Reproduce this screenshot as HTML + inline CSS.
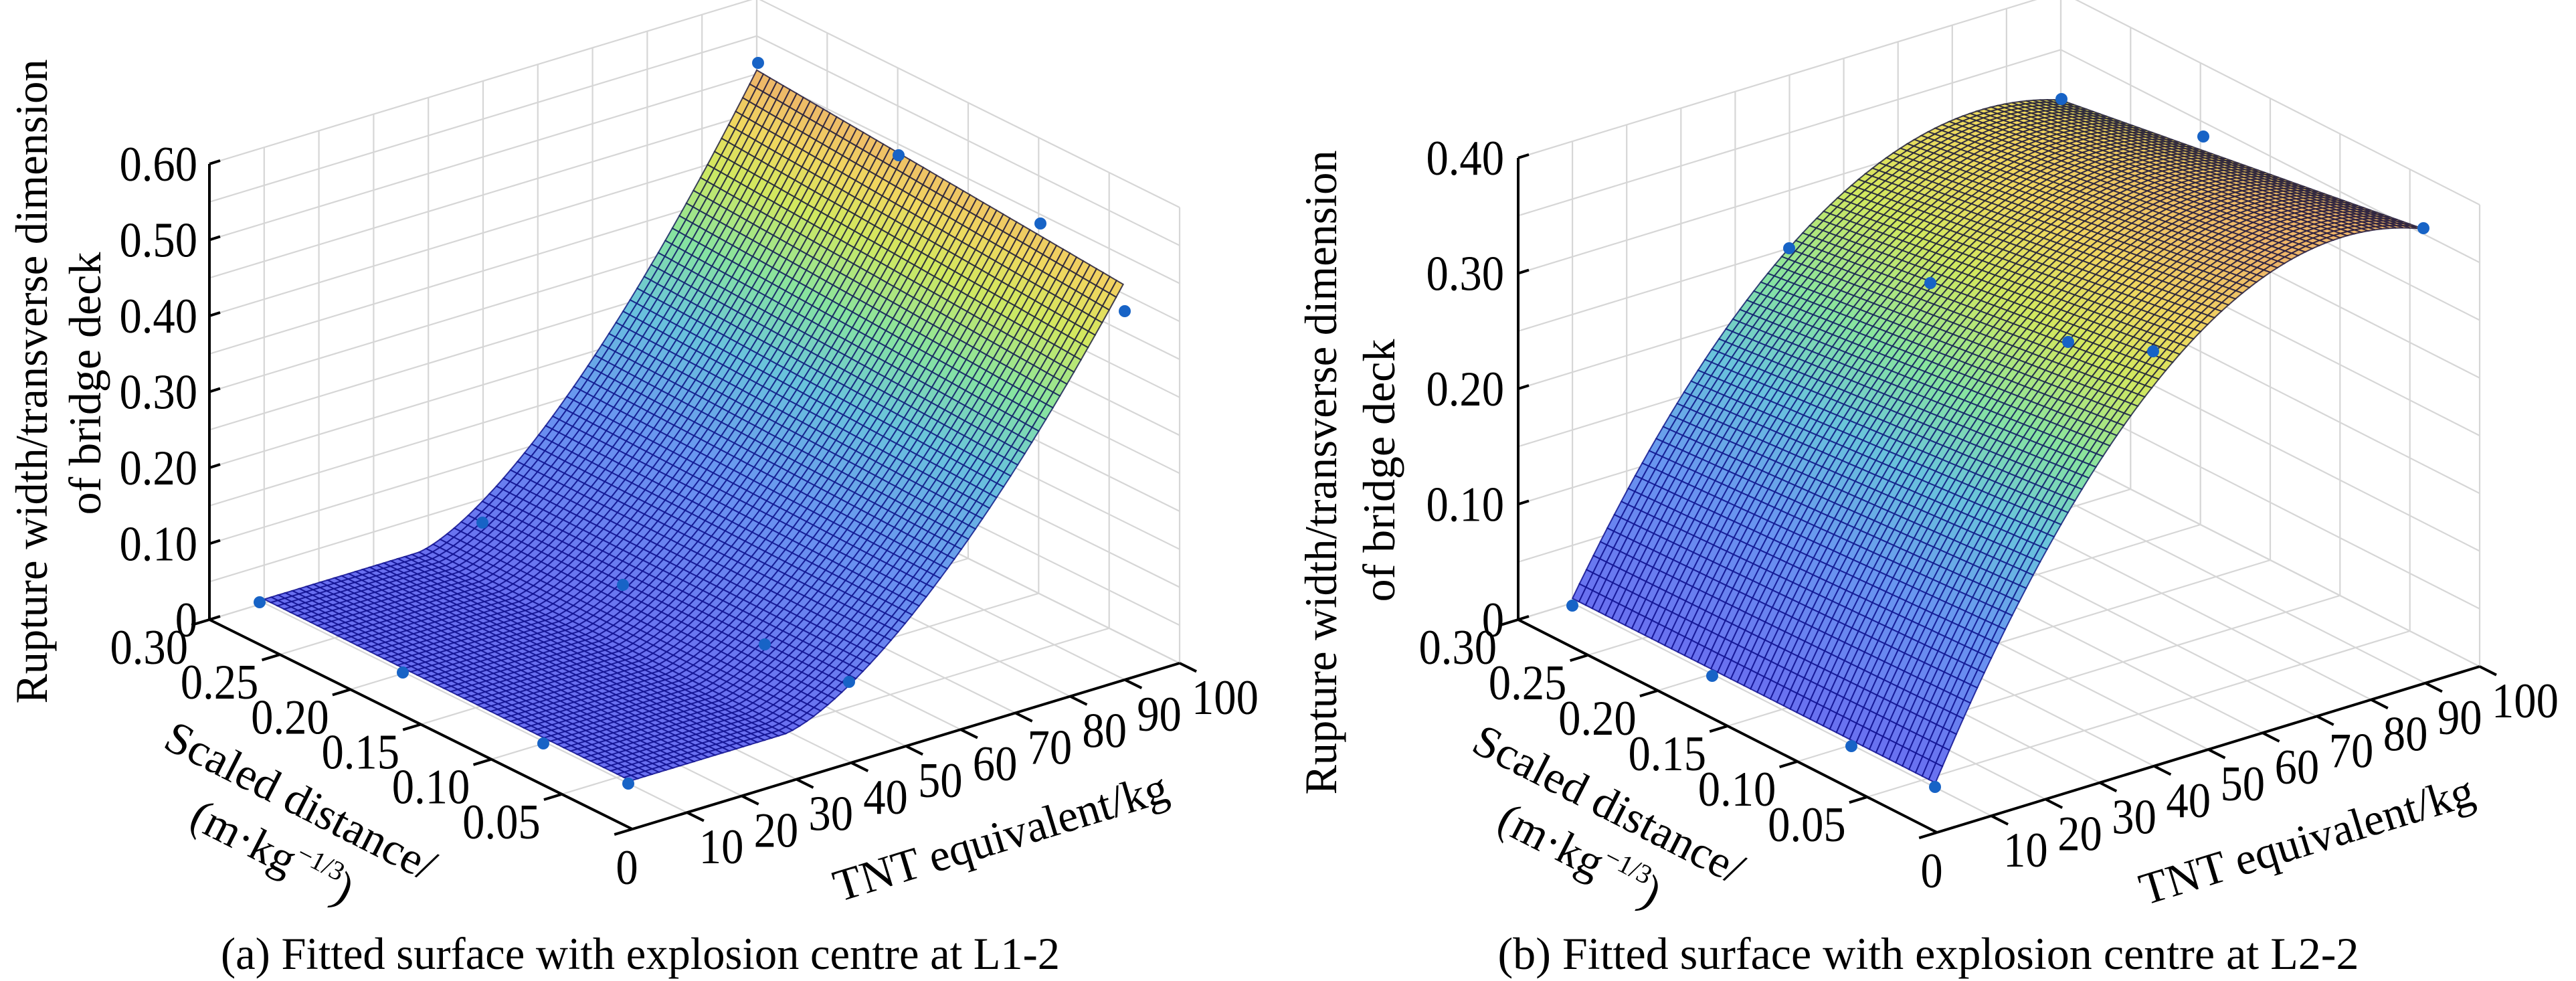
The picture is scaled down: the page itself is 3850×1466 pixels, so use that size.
<!DOCTYPE html>
<html><head><meta charset="utf-8">
<style>
html,body{margin:0;padding:0;background:#fff;}
svg{display:block;}
text{font-family:"Liberation Serif","Times New Roman",serif;fill:#000;}
</style></head>
<body>
<svg id="s" width="3850" height="1466" viewBox="0 0 3850 1466" xmlns="http://www.w3.org/2000/svg"></svg>
<script>
(function(){
var out=[];
var stops=[[0,[105,110,240]],[0.3,[105,150,240]],[0.5,[105,195,220]],[0.65,[135,228,160]],[0.8,[210,232,95]],[0.9,[240,215,95]],[1,[238,182,105]]];
function cmap(t){t=Math.max(0,Math.min(1,t));for(var i=1;i<stops.length;i++){if(t<=stops[i][0]){var a=stops[i-1],b=stops[i];var f=(t-a[0])/(b[0]-a[0]);return [0,1,2].map(function(k){return Math.round(a[1][k]+f*(b[1][k]-a[1][k]));});}}return stops[stops.length-1][1];}
function txt(x,y,s,anchor,fs){out.push('<text transform="translate('+x.toFixed(1)+','+y.toFixed(1)+') scale(0.9,1)" font-size="'+(fs||74)+'" text-anchor="'+(anchor||'start')+'">'+s+'</text>');}
function chart(c){
  var L=c.L,F=c.F,R=c.R,K=c.K;
  function P(s,w,z){var u=(0.3-s)/0.3,v=w/100;return [L[0]+u*(F[0]-L[0])+v*(R[0]-F[0]),L[1]+u*(F[1]-L[1])+v*(R[1]-F[1])-z*K];}
  function line(a,b,st,wd){out.push('<line x1="'+a[0].toFixed(1)+'" y1="'+a[1].toFixed(1)+'" x2="'+b[0].toFixed(1)+'" y2="'+b[1].toFixed(1)+'" stroke="'+st+'" stroke-width="'+wd+'"/>');}
  var g='#d6d6d6',gw=2.2,z;
  for(var w=0;w<=100;w+=10)line(P(0.3,w,0),P(0.3,w,c.zt),g,gw);
  for(z=0;z<=c.zt+1e-9;z+=0.05)line(P(0.3,0,z),P(0.3,100,z),g,gw);
  for(var s=0;s<=0.3001;s+=0.05)line(P(s,100,0),P(s,100,c.zt),g,gw);
  for(z=0;z<=c.zt+1e-9;z+=0.05)line(P(0.3,100,z),P(0,100,z),g,gw);
  for(w=0;w<=100;w+=10)line(P(0.3,w,0),P(0,w,0),g,gw);
  for(s=0;s<=0.3001;s+=0.05)line(P(s,0,0),P(s,100,0),g,gw);
  var NS=55,NW=70,s0=0.04,s1=0.3,w0=10,w1=100,quads=[];
  function Z(s,w){return Math.max(0,c.f(s,w));}
  for(var i=0;i<NS;i++)for(var j=0;j<NW;j++){
    var sa=s0+(s1-s0)*i/NS,sb=s0+(s1-s0)*(i+1)/NS,wa=w0+(w1-w0)*j/NW,wb=w0+(w1-w0)*(j+1)/NW;
    var za=Z(sa,wa),zb=Z(sb,wa),zc=Z(sb,wb),zd=Z(sa,wb);
    var pts=[P(sa,wa,za),P(sb,wa,zb),P(sb,wb,zc),P(sa,wb,zd)];
    var depth=P((sa+sb)/2,(wa+wb)/2,0)[1];
    quads.push([depth,pts,cmap(((za+zb+zc+zd)/4)/c.zc)]);
  }
  quads.sort(function(a,b){return a[0]-b[0];});
  quads.forEach(function(q){
    var p=q[1].map(function(x){return x[0].toFixed(1)+','+x[1].toFixed(1);}).join(' ');
    var col=q[2];
    var st='rgb('+Math.round(col[0]*0.15)+','+Math.round(col[1]*0.15)+','+Math.round(col[2]*0.6)+')';
    out.push('<polygon points="'+p+'" fill="rgb('+col.join(',')+')" stroke="'+st+'" stroke-width="2" stroke-opacity="0.85"/>');
  });
  c.dots.forEach(function(d){out.push('<circle cx="'+d[0]+'" cy="'+d[1]+'" r="9" fill="#1763c6"/>');});
  var k='#000';
  line(P(0.3,0,0),P(0.3,0,c.zt),k,4);
  line(P(0.3,0,0),P(0,0,0),k,4);
  line(P(0,0,0),P(0,100,0),k,4);
  c.zticks.forEach(function(t){var p=P(0.3,0,t[0]);line(p,[p[0]+16,p[1]-5],k,4);
    txt(p[0]-c.zlx,p[1]+25,t[1],'end');});
  var dw=[R[0]-F[0],R[1]-F[1]],ln=Math.hypot(dw[0],dw[1]);dw=[dw[0]/ln,dw[1]/ln];
  var ds=[F[0]-L[0],F[1]-L[1]];ln=Math.hypot(ds[0],ds[1]);ds=[ds[0]/ln,ds[1]/ln];
  var sl=['0.30','0.25','0.20','0.15','0.10','0.05'];
  for(i=0;i<6;i++){var sv=0.3-0.05*i;var p=P(sv,0,0);line(p,[p[0]-dw[0]*28,p[1]-dw[1]*28],k,4);
    txt(p[0]-32,p[1]+66,sl[i],'end');}
  var p0=P(0,0,0);line(p0,[p0[0]-dw[0]*28,p0[1]-dw[1]*28],k,4);
  txt(p0[0]-8,p0[1]+82,'0','middle');
  for(w=10;w<=100;w+=10){var p=P(0,w,0);line(p,[p[0]+ds[0]*28,p[1]+ds[1]*28],k,4);
    txt(p[0]+18,p[1]+76,''+w,'start');}
  var t=c.t;
  out.push('<text transform="translate('+t.z1[0]+','+t.z1[1]+') rotate(-90)" font-size="68" text-anchor="middle" textLength="'+t.z1[2]+'" lengthAdjust="spacingAndGlyphs">Rupture width/transverse dimension</text>');
  out.push('<text transform="translate('+t.z2[0]+','+t.z2[1]+') rotate(-90)" font-size="68" text-anchor="middle">of bridge deck</text>');
  out.push('<text transform="translate('+t.s1[0]+','+t.s1[1]+') rotate(27)" font-size="68" text-anchor="middle" textLength="444" lengthAdjust="spacingAndGlyphs">Scaled distance/</text>');
  out.push('<text transform="translate('+t.s2[0]+','+t.s2[1]+') rotate(27)" font-size="68" text-anchor="middle">(m·kg<tspan font-size="40" dy="-28">−1/3</tspan><tspan dy="28">)</tspan></text>');
  out.push('<text transform="translate('+t.w[0]+','+t.w[1]+') rotate(-17)" font-size="68" text-anchor="middle">TNT equivalent/kg</text>');
  out.push('<text x="'+t.c[0]+'" y="'+t.c[1]+'" font-size="68" text-anchor="middle" textLength="'+t.c[2]+'" lengthAdjust="spacingAndGlyphs">'+t.c[3]+'</text>');
}
chart({L:[313,926],F:[945,1239],R:[1763,991],K:1135,zt:0.6,zc:0.5,zlx:18,
  zticks:[[0,'0'],[0.1,'0.10'],[0.2,'0.20'],[0.3,'0.30'],[0.4,'0.40'],[0.5,'0.50'],[0.6,'0.60']],
  f:function(s,w){var A=0.457+(s-0.04)/0.26*0.043;var x=Math.max(0,(w-38)/62);return A*Math.pow(x,1.5)+0.005;},
  dots:[[388,900],[602,1005],[812,1111],[939,1171],[721,781],[931,874],[1143,963],[1269,1019],[1133,94],[1343,232],[1555,334],[1681,465]],
  t:{z1:[70,570,963],z2:[150,573],s1:[439,1217],s2:[397,1293],w:[1502,1272],c:[957,1448,1254,'(a) Fitted surface with explosion centre at L1-2']}
});
chart({L:[2269,926],F:[2895,1244],R:[3706,996],K:1725,zt:0.4,zc:0.36,zlx:21,
  zticks:[[0,'0'],[0.1,'0.10'],[0.2,'0.20'],[0.3,'0.30'],[0.4,'0.40']],
  f:function(s,w){var A=0.315+0.05*(0.3-s)/0.26;var x=(w-85)/75;return A*(1-x*x)+0.004;},
  dots:[[2350,905],[2559,1010],[2767,1115],[2892,1176],[2674,371],[2885,423],[3091,511],[3218,525],[3081,148],[3293,204],[3622,341]],
  t:{z1:[1997,706,963],z2:[2084,703],s1:[2394,1222],s2:[2351,1298],w:[3454,1277],c:[2882,1448,1287,'(b) Fitted surface with explosion centre at L2-2']}
});
document.getElementById('s').innerHTML=out.join('');
})();
</script>
</body></html>
